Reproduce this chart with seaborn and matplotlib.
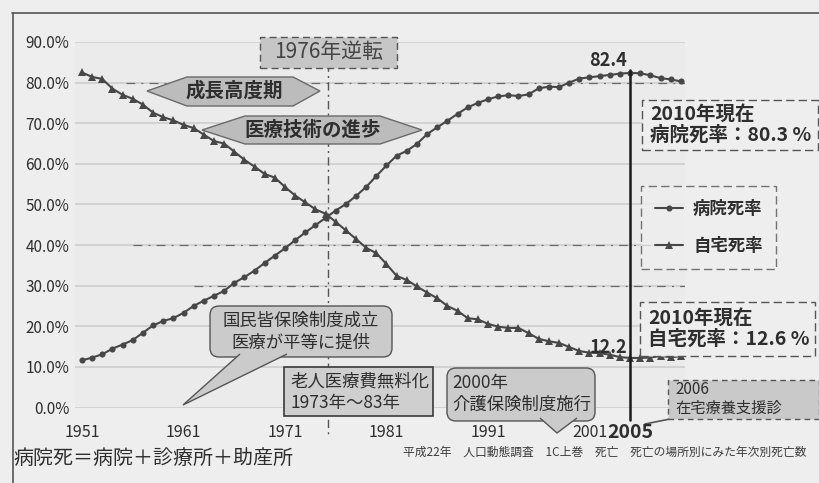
import numpy as np
import pandas as pd
import matplotlib
matplotlib.use("Agg")
import matplotlib.pyplot as plt
from matplotlib.patches import Polygon, FancyBboxPatch
from matplotlib.lines import Line2D
import seaborn as sns

# ---- data: share of deaths by place (%), Japan 1951-2010 ----
years = list(range(1951, 2011))
hospital_rate = [
    11.6, 12.3, 13.1, 14.5, 15.5, 16.6, 18.4, 20.2, 21.3, 22.0,
    23.3, 25.0, 26.3, 27.5, 28.7, 30.7, 32.1, 33.7, 35.6, 37.4,
    39.2, 41.2, 43.1, 44.9, 46.7, 48.5, 50.1, 52.1, 54.3, 57.0,
    59.6, 62.0, 63.2, 64.9, 67.3, 69.0, 70.6, 72.3, 73.9, 75.0,
    75.9, 76.6, 76.9, 76.7, 77.1, 78.6, 79.0, 78.9, 80.0, 81.0,
    81.3, 81.6, 81.9, 82.2, 82.4, 82.3, 81.8, 81.1, 80.8, 80.3,
]
home_rate = [
    82.5, 81.4, 80.9, 78.5, 77.0, 76.0, 74.6, 72.6, 71.5, 70.7,
    69.6, 68.8, 67.2, 65.6, 65.0, 63.0, 61.0, 59.3, 57.5, 56.6,
    54.3, 52.2, 50.5, 48.8, 47.7, 45.7, 43.6, 41.5, 39.3, 38.0,
    35.3, 32.4, 31.4, 29.8, 28.3, 26.9, 25.0, 23.8, 22.0, 21.7,
    20.6, 19.9, 19.6, 19.6, 18.3, 16.9, 16.3, 15.9, 14.9, 13.9,
    13.5, 13.4, 13.0, 12.4, 12.2, 12.2, 12.3, 12.7, 12.4, 12.6,
]
series_names = ["病院死率", "自宅死率"]
y_ticks = [0, 10, 20, 30, 40, 50, 60, 70, 80, 90]
x_ticks = [1951, 1961, 1971, 1981, 1991, 2001]
peak_year = 2005

df = pd.concat([
    pd.DataFrame({"year": years, "rate": hospital_rate, "series": series_names[0]}),
    pd.DataFrame({"year": years, "rate": home_rate, "series": series_names[1]}),
])

# ---- figure ----
W, H = 819, 483
sns.set_theme(style="white")
plt.rcParams["font.family"] = ["Noto Sans CJK JP", "DejaVu Sans"]
TXT = "#2e2e2e"
BG = "#eeeeee"

fig = plt.figure(figsize=(W / 100, H / 100), dpi=100, facecolor=BG)
ax = fig.add_axes([75 / W, 1 - 407.5 / H, 610 / W, 365.5 / H])
ax.set_facecolor("#ebebeb")


def P(x, y):
    return (x / W, 1 - y / H)


line_col = "#474747"
sns.lineplot(data=df[df.series == series_names[0]], x="year", y="rate", ax=ax,
             color=line_col, marker="o", markersize=4.4, markeredgewidth=0,
             linewidth=1.5, label=series_names[0])
sns.lineplot(data=df[df.series == series_names[1]], x="year", y="rate", ax=ax,
             color=line_col, marker="^", markersize=5.4, markeredgewidth=0,
             linewidth=1.5, label=series_names[1])

ax.set_xlim(1950.31, 2010.41)
ax.set_ylim(0, 90)
ax.set_yticks(y_ticks)
ax.set_yticklabels([f"{v:.1f}%" for v in y_ticks], fontsize=11, color=TXT)
ax.set_xticks(x_ticks)
ax.set_xticklabels([str(v) for v in x_ticks], fontsize=11.5, color=TXT)
ax.tick_params(axis="y", length=0, pad=4)
ax.tick_params(axis="x", length=0, pad=12)
ax.set_xlabel("")
ax.set_ylabel("")
for s in ax.spines.values():
    s.set_visible(False)
ax.grid(axis="y", color="#d2d2d2", linewidth=1.4)
ax.set_axisbelow(True)

# dash-dot reference levels
for lvl, x0 in [(80, 1955.3), (40, 1956.0), (30, 1962.0)]:
    ax.plot([x0, 2010.4], [lvl, lvl], color="#6a6a6a", lw=0.9,
            linestyle=(0, (7, 5, 1.5, 5)), zorder=1)

# crossing of the two series (hospital overtakes home)
h = np.array(hospital_rate)
m = np.array(home_rate)
d = h - m
i = int(np.where((d[:-1] < 0) & (d[1:] >= 0))[0][0])
cross_year = years[i] + (-d[i]) / (d[i + 1] - d[i])
ax.plot([cross_year, cross_year], [84.9, -7.2], color="#555555", lw=1.0,
        linestyle=(0, (6, 3, 1.5, 3)), clip_on=False, zorder=1)

# 2005 marker line
pk = years.index(peak_year)
ax.plot([peak_year, peak_year], [83.0, -3.1], color="#1a1a1a", lw=1.8,
        clip_on=False, zorder=4)
ax.text(peak_year - 0.3, hospital_rate[pk] + 0.6, f"{hospital_rate[pk]:.1f}",
        ha="right", va="bottom", fontsize=13, color=TXT, fontweight="bold")
ax.text(peak_year - 0.3, home_rate[pk] + 0.2, f"{home_rate[pk]:.1f}",
        ha="right", va="bottom", fontsize=13, color=TXT, fontweight="bold")
fig.text(*P(630, 433), str(peak_year), ha="center", va="center",
         fontsize=14, fontweight="bold", color=TXT)

# legend
leg = ax.legend(loc="upper left", bbox_to_anchor=P(641, 186),
                bbox_transform=fig.transFigure, borderaxespad=0,
                fontsize=12.5, frameon=True, fancybox=False,
                borderpad=0.8, labelspacing=1.1, handlelength=1.6,
                handletextpad=0.6)
fr = leg.get_frame()
fr.set_edgecolor("#555555")
fr.set_facecolor(BG)
fr.set_linestyle((0, (6, 3)))
fr.set_linewidth(1.0)
for t in leg.get_texts():
    t.set_color(TXT)
    t.set_fontweight("bold")


# ---- annotation shapes ----
def add_poly(pts, fc, ec, lw=1.0, ls="-", closed=True, z=5):
    poly = Polygon([P(*p) for p in pts], closed=closed, transform=fig.transFigure,
                   facecolor=fc, edgecolor=ec, linewidth=lw, linestyle=ls, zorder=z)
    fig.add_artist(poly)


def add_box(x0, y0, x1, y1, fc, ec, ls="-", lw=1.0, rounded=0, z=5):
    (fx0, fy1) = P(x0, y0)
    (fx1, fy0) = P(x1, y1)
    if rounded:
        style = f"round,pad=0,rounding_size={rounded / W}"
    else:
        style = "square,pad=0"
    b = FancyBboxPatch((fx0, fy0), fx1 - fx0, fy1 - fy0, boxstyle=style,
                       transform=fig.transFigure, facecolor=fc, edgecolor=ec,
                       linestyle=ls, linewidth=lw, zorder=z,
                       mutation_aspect=W / H if rounded else 1)
    fig.add_artist(b)


def ftext(x, y, s, size, ha="left", va="center", weight="normal", color=TXT, ls=1.2):
    fig.text(*P(x, y), s, ha=ha, va=va, fontsize=size, fontweight=weight,
             color=color, linespacing=ls, zorder=10)


# 1976 reversal label
add_box(260, 37, 397, 68, "#c6c6c6", "#555555", ls=(0, (5, 3)))
ftext(329, 52, "1976年逆転", 15, ha="center", color="#444444")

# period arrows
add_poly([(147, 91), (187, 77), (293, 77), (320, 91), (293, 106), (187, 106)],
         "#bcbcbc", "#6a6a6a")
ftext(234, 91, "成長高度期", 14, ha="center", weight="bold")
add_poly([(202, 130), (245, 116), (380, 116), (422, 130), (380, 144), (245, 144)],
         "#bcbcbc", "#6a6a6a")
ftext(313, 130, "医療技術の進歩", 14, ha="center", weight="bold")

# 2010 status boxes
add_box(642, 100, 818, 150, BG, "#555555", ls=(0, (6, 3)))
ftext(650, 125, f"{years[-1]}年現在\n病院死率：{hospital_rate[-1]:.1f} %", 14,
      weight="bold", ls=1.15)
add_box(640, 302, 815, 356, BG, "#555555", ls=(0, (6, 3)))
ftext(648, 329, f"{years[-1]}年現在\n自宅死率：{home_rate[-1]:.1f} %", 14,
      weight="bold", ls=1.15)

# national insurance bubble
add_box(210, 306, 392, 357, "#cbcbcb", "#555555", rounded=9)
add_poly([(240, 354), (183, 405), (287, 354)], "#cbcbcb", "#555555", closed=False)
ftext(301, 332, "国民皆保険制度成立\n医療が平等に提供", 12.5, ha="center", ls=1.3)

# free elderly care box
add_box(284, 367, 433, 416, "#cfcfcf", "#3a3a3a", lw=1.2)
ftext(290, 392, "老人医療費無料化\n1973年〜83年", 12.5, ls=1.25)

# long-term care insurance bubble
add_box(447, 368, 595, 421, "#cbcbcb", "#555555", rounded=9)
add_poly([(540, 418), (557, 433), (577, 418)], "#cbcbcb", "#555555", closed=False)
ftext(452, 394, "2000年\n介護保険制度施行", 12.5, ls=1.25)

# 2006 home care clinic box
add_box(668, 380, 819, 419, "#c9c9c9", "#555555", ls=(0, (4, 3)))
ftext(675, 399, "2006\n在宅療養支援診", 11, ls=1.1)
fig.add_artist(Line2D([P(645, 424)[0], P(680, 417)[0]],
                      [P(645, 424)[1], P(680, 417)[1]],
                      transform=fig.transFigure, color="#555555", lw=1.2))

# footer notes
ftext(13, 458, "病院死＝病院＋診療所＋助産所", 14.4)
ftext(403, 452, "平成22年　人口動態調査　1C上巻　死亡　死亡の場所別にみた年次別死亡数",
      8.5, color="#3a3a3a")

# outer frame
fig.add_artist(Line2D([12 / W, 1.0], [1 - 13 / H, 1 - 13 / H],
                      transform=fig.transFigure, color="#555555", lw=1.2))
fig.add_artist(Line2D([13 / W, 13 / W], [1 - 13 / H, 0.0],
                      transform=fig.transFigure, color="#555555", lw=1.2))

fig.savefig("out.png", dpi=100, facecolor=BG)
